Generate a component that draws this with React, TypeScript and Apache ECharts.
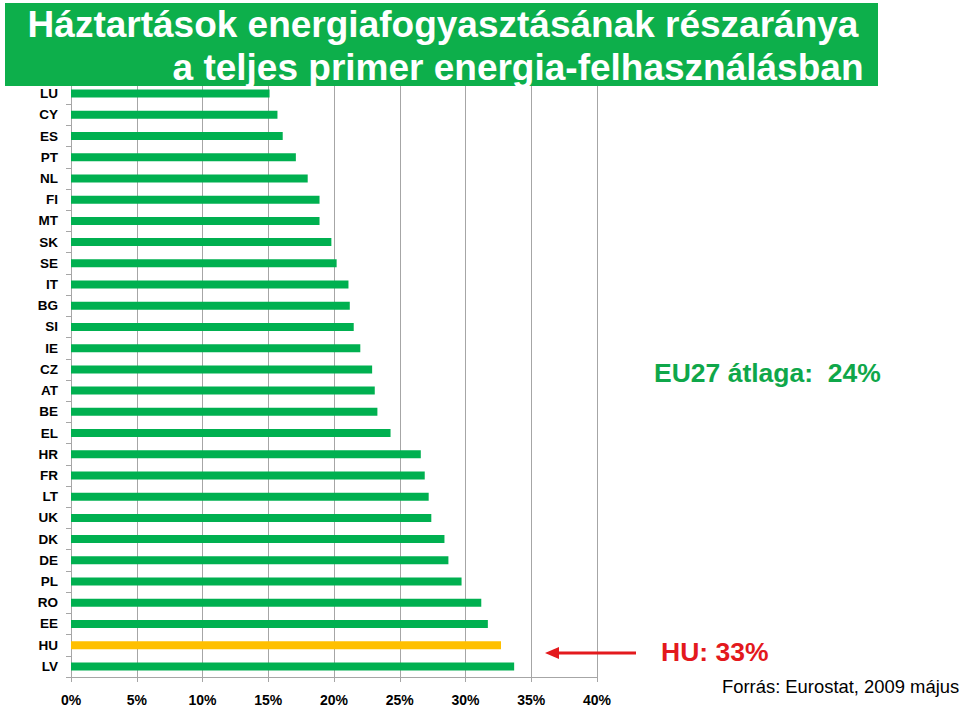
import React, { useEffect, useRef } from "react";
import * as echarts from "echarts";

const countries = [
  "LU", "CY", "ES", "PT", "NL", "FI", "MT", "SK", "SE", "IT", "BG", "SI", "IE", "CZ",
  "AT", "BE", "EL", "HR", "FR", "LT", "UK", "DK", "DE", "PL", "RO", "EE", "HU", "LV",
];
const shares = [
  15.1, 15.7, 16.1, 17.1, 18.0, 18.9, 18.9, 19.8, 20.2, 21.1, 21.2, 21.5, 22.0, 22.9,
  23.1, 23.3, 24.3, 26.6, 26.9, 27.2, 27.4, 28.4, 28.7, 29.7, 31.2, 31.7, 32.7, 33.7,
];
const highlight = "HU";
const titleLines = [
  "Háztartások energiafogyasztásának részaránya",
  "a teljes primer energia-felhasználásban",
];
const avgText = "EU27 átlaga:  24%";
const huText = "HU: 33%";
const sourceText = "Forrás: Eurostat, 2009 május";

const GREEN = "#00B050";
const TITLE_GREEN = "#0DAF4B";
const YELLOW = "#FFC000";
const RED = "#E3191D";
const GRID = "#A6A6A6";
const FONT = "'Liberation Sans', Arial, Helvetica, sans-serif";

export default function App() {
  const ref = useRef<HTMLDivElement>(null);
  useEffect(() => {
    if (!ref.current) return;
    const chart = echarts.init(ref.current, undefined, { renderer: "svg" });
    chart.setOption({
      animation: false,
      backgroundColor: "#ffffff",
      textStyle: { fontFamily: FONT },
      grid: { left: 71, right: 363, top: 83, bottom: 30, containLabel: false },
      xAxis: {
        type: "value",
        min: 0,
        max: 40,
        interval: 5,
        axisLine: { show: true, lineStyle: { color: GRID, width: 1 } },
        axisTick: { show: true, length: 5, lineStyle: { color: GRID } },
        splitLine: { show: true, lineStyle: { color: GRID, width: 1 } },
        axisLabel: {
          formatter: "{value}%",
          color: "#000",
          fontWeight: "bold",
          fontSize: 14,
          fontFamily: FONT,
          margin: 16,
        },
      },
      yAxis: {
        type: "category",
        inverse: true,
        data: countries,
        axisLine: { show: true, lineStyle: { color: GRID, width: 1 } },
        axisTick: { show: true, length: 5, lineStyle: { color: GRID } },
        splitLine: { show: false },
        axisLabel: {
          color: "#000",
          fontWeight: "bold",
          fontSize: 13.5,
          fontFamily: FONT,
          margin: 13,
        },
      },
      series: [
        {
          type: "bar",
          barWidth: 8,
          data: shares.map((v, i) => ({
            value: v,
            itemStyle: { color: countries[i] === highlight ? YELLOW : GREEN },
          })),
        },
      ],
      graphic: [
        {
          type: "rect",
          shape: { x: 5, y: 3, width: 873, height: 83 },
          style: { fill: TITLE_GREEN },
          z: 100,
        },
        {
          type: "text",
          x: 443,
          y: 24,
          z: 101,
          style: {
            text: titleLines[0],
            fill: "#fff",
            font: `bold 37px ${FONT}`,
            textAlign: "center",
            textVerticalAlign: "middle",
          },
        },
        {
          type: "text",
          x: 518,
          y: 67,
          z: 101,
          style: {
            text: titleLines[1],
            fill: "#fff",
            font: `bold 37px ${FONT}`,
            textAlign: "center",
            textVerticalAlign: "middle",
          },
        },
        {
          type: "text",
          x: 654,
          y: 373,
          z: 101,
          style: {
            text: avgText,
            fill: "#0FA74A",
            font: `bold 26.5px ${FONT}`,
            textAlign: "left",
            textVerticalAlign: "middle",
          },
        },
        {
          type: "text",
          x: 661,
          y: 652,
          z: 101,
          style: {
            text: huText,
            fill: RED,
            font: `bold 26.5px ${FONT}`,
            textAlign: "left",
            textVerticalAlign: "middle",
          },
        },
        {
          type: "text",
          x: 722,
          y: 686,
          z: 101,
          style: {
            text: sourceText,
            fill: "#000",
            font: `18.4px ${FONT}`,
            textAlign: "left",
            textVerticalAlign: "middle",
          },
        },
        {
          type: "line",
          shape: { x1: 636, y1: 653, x2: 556, y2: 653 },
          style: { stroke: RED, lineWidth: 3 },
          z: 101,
        },
        {
          type: "polygon",
          shape: { points: [[545, 653], [559, 647], [559, 659]] },
          style: { fill: RED },
          z: 101,
        },
      ],
    });
    return () => chart.dispose();
  }, []);
  return (
    <div
      ref={ref}
      style={{ position: "fixed", left: 0, top: 0, width: 960, height: 707, background: "#fff" }}
    />
  );
}
